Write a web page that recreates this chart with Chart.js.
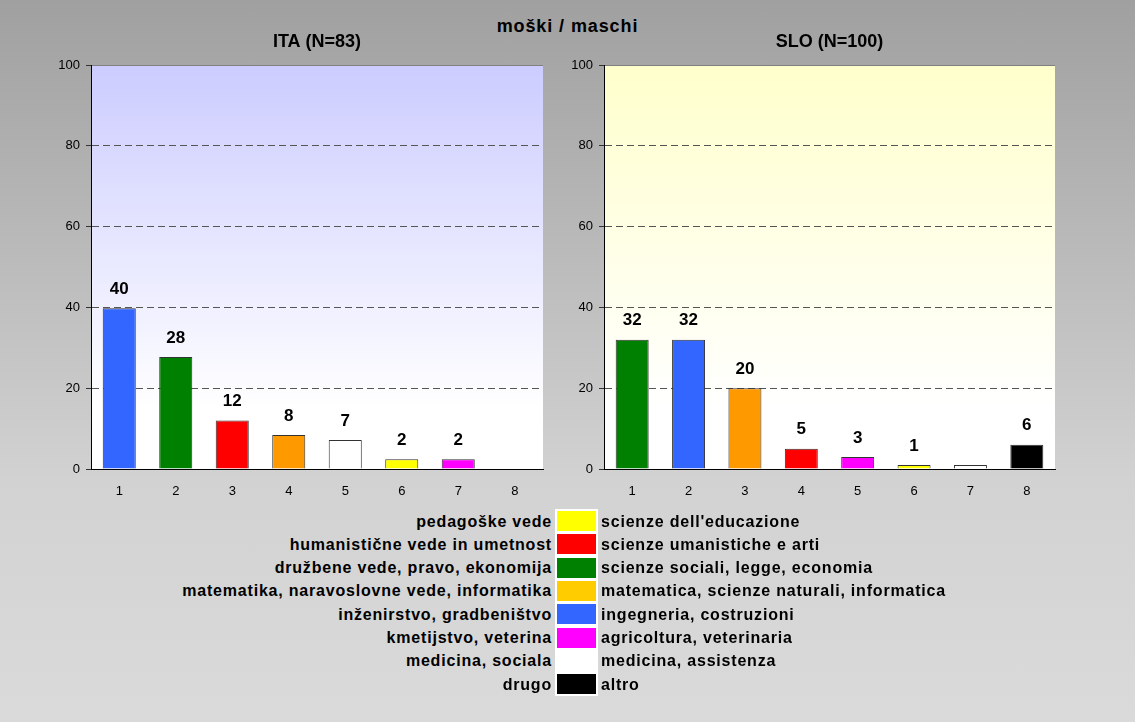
<!DOCTYPE html>
<html>
<head>
<meta charset="utf-8">
<script src="https://cdn.jsdelivr.net/npm/chart.js@4"></script>
<style>
  body { margin: 0; width: 1135px; height: 722px; overflow: hidden;
    font-family: 'Liberation Sans', Arial, sans-serif;
    background: linear-gradient(#a0a0a0 0px, #d2d2d2 480px, #dadada 722px); }
  #main { position: absolute; left: 0; width: 1135px; top: 16px; text-align: center;
    font-weight: bold; font-size: 18px; letter-spacing: 0.9px; color: #000; }
  .wrap { position: absolute; top: 0; height: 510px; }
  #legend { position: absolute; left: 0; top: 509px; width: 1135px; }
  .row { position: absolute; height: 23.3px; font-weight: bold; font-size: 16px; letter-spacing: 0.8px;
    line-height: 23.3px; }
  .l { right: 583px; text-align: right; white-space: nowrap; }
  .r { left: 601px; white-space: nowrap; }
  #boxcol { position: absolute; left: 555px; width: 43px; top: 0; height: 187px; background: #fff; }
  .box { position: absolute; left: 2px; width: 39px; height: 20px; }
</style>
</head>
<body>
<div id="main">moški / maschi</div>
<div class="wrap" style="left:0;width:567px"><canvas id="ita"></canvas></div>
<div class="wrap" style="left:513px;width:622px"><canvas id="slo"></canvas></div>
<div id="legend"><div id="boxcol"></div></div>
<script>
const categories = ['1', '2', '3', '4', '5', '6', '7', '8'];
const yTicks = [0, 20, 40, 60, 80, 100];

const itaValues = [39.8, 27.7, 12.0, 8.4, 7.2, 2.4, 2.4, 0];
const itaLabels = ['40', '28', '12', '8', '7', '2', '2', ''];
const itaColors = ['#3366ff', '#008000', '#ff0000', '#ff9900', '#ffffff', '#ffff00', '#ff00ff', '#000000'];

const sloValues = [32, 32, 20, 5, 3, 1, 1, 6];
const sloLabels = ['32', '32', '20', '5', '3', '1', '', '6'];
const sloColors = ['#008000', '#3366ff', '#ff9900', '#ff0000', '#ff00ff', '#ffff00', '#ffffff', '#000000'];

const legendSl = ['pedagoške vede', 'humanistične vede in umetnost', 'družbene vede, pravo, ekonomija',
  'matematika, naravoslovne vede, informatika', 'inženirstvo, gradbeništvo', 'kmetijstvo, veterina',
  'medicina, sociala', 'drugo'];
const legendIt = ['scienze dell\'educazione', 'scienze umanistiche e arti', 'scienze sociali, legge, economia',
  'matematica, scienze naturali, informatica', 'ingegneria, costruzioni', 'agricoltura, veterinaria',
  'medicina, assistenza', 'altro'];
const legendColors = ['#ffff00', '#ff0000', '#008000', '#ffcc00', '#3366ff', '#ff00ff', '#ffffff', '#000000'];

Chart.defaults.font.family = "'Liberation Sans', Arial, sans-serif";
Chart.defaults.color = '#000';

const plotBg = {
  id: 'plotBg',
  beforeDraw(chart, args, opts) {
    const a = chart.chartArea;
    const c = chart.ctx;
    const g = c.createLinearGradient(0, a.top, 0, a.bottom);
    g.addColorStop(0, opts.top);
    g.addColorStop(0.85, '#ffffff');
    g.addColorStop(1, '#ffffff');
    c.save();
    c.fillStyle = g;
    c.fillRect(a.left, a.top, a.right - a.left, a.bottom - a.top);
    c.restore();
  }
};

const barLabels = {
  id: 'barLabels',
  afterDatasetsDraw(chart, args, opts) {
    const c = chart.ctx;
    const meta = chart.getDatasetMeta(0);
    c.save();
    c.font = "bold 17px 'Liberation Sans', Arial, sans-serif";
    c.fillStyle = '#000';
    c.textAlign = 'center';
    c.textBaseline = 'middle';
    meta.data.forEach((bar, i) => {
      if (opts.labels[i]) c.fillText(opts.labels[i], bar.x, bar.y - 19);
    });
    c.restore();
  }
};

function makeChart(id, title, values, labels, colors, bgTop, padRight) {
  new Chart(document.getElementById(id), {
    type: 'bar',
    data: {
      labels: categories,
      datasets: [{
        data: values,
        backgroundColor: colors,
        borderColor: '#333',
        borderWidth: 1,
        borderSkipped: 'bottom',
        barPercentage: 0.585,
        categoryPercentage: 1
      }]
    },
    options: {
      responsive: true,
      maintainAspectRatio: false,
      animation: false,
      layout: { padding: { top: 31, left: 0, right: padRight, bottom: 0 } },
      plugins: {
        legend: { display: false },
        tooltip: { enabled: false },
        title: {
          display: true,
          fullSize: false,
          text: title,
          font: { size: 18, weight: 'bold' },
          color: '#000',
          padding: { top: 0, bottom: 12.4 }
        },
        plotBg: { top: bgTop },
        barLabels: { labels: labels }
      },
      scales: {
        x: {
          grid: { display: false },
          border: { color: '#000', width: 1 },
          ticks: { font: { size: 13 }, color: '#000', padding: 7 },
          afterFit(s) { s.height = 41; }
        },
        y: {
          min: 0,
          max: 100,
          afterBuildTicks(s) { s.ticks = yTicks.map(v => ({ value: v })); },
          ticks: { font: { size: 13 }, color: '#000', padding: 6 },
          grid: {
            color: (ctx) => ctx.tick && ctx.tick.value === 100 ? '#808080' : (ctx.tick && ctx.tick.value === 0 ? 'rgba(0,0,0,0)' : '#555'),
            tickColor: '#333',
            tickLength: 5,
            lineWidth: 1
          },
          border: {
            color: '#000',
            width: 1,
            dash: (ctx) => ctx.tick && (ctx.tick.value === 100) ? [] : [7, 4]
          },
          afterFit(s) { s.width = 91; }
        }
      }
    },
    plugins: [plotBg, barLabels]
  });
}

makeChart('ita', 'ITA (N=83)', itaValues, itaLabels, itaColors, '#ccccff', 24);
makeChart('slo', 'SLO (N=100)', sloValues, sloLabels, sloColors, '#ffffcc', 80);

const legend = document.getElementById('legend');
const boxcol = document.getElementById('boxcol');
legendSl.forEach((t, i) => {
  const top = 0.5 + i * 23.3;
  const l = document.createElement('div');
  l.className = 'row l';
  l.style.top = top + 'px';
  l.textContent = t;
  legend.appendChild(l);
  const r = document.createElement('div');
  r.className = 'row r';
  r.style.top = top + 'px';
  r.textContent = legendIt[i];
  legend.appendChild(r);
  const b = document.createElement('div');
  b.className = 'box';
  b.style.top = (2 + i * 23.3) + 'px';
  b.style.background = legendColors[i];
  boxcol.appendChild(b);
});
</script>
</body>
</html>
